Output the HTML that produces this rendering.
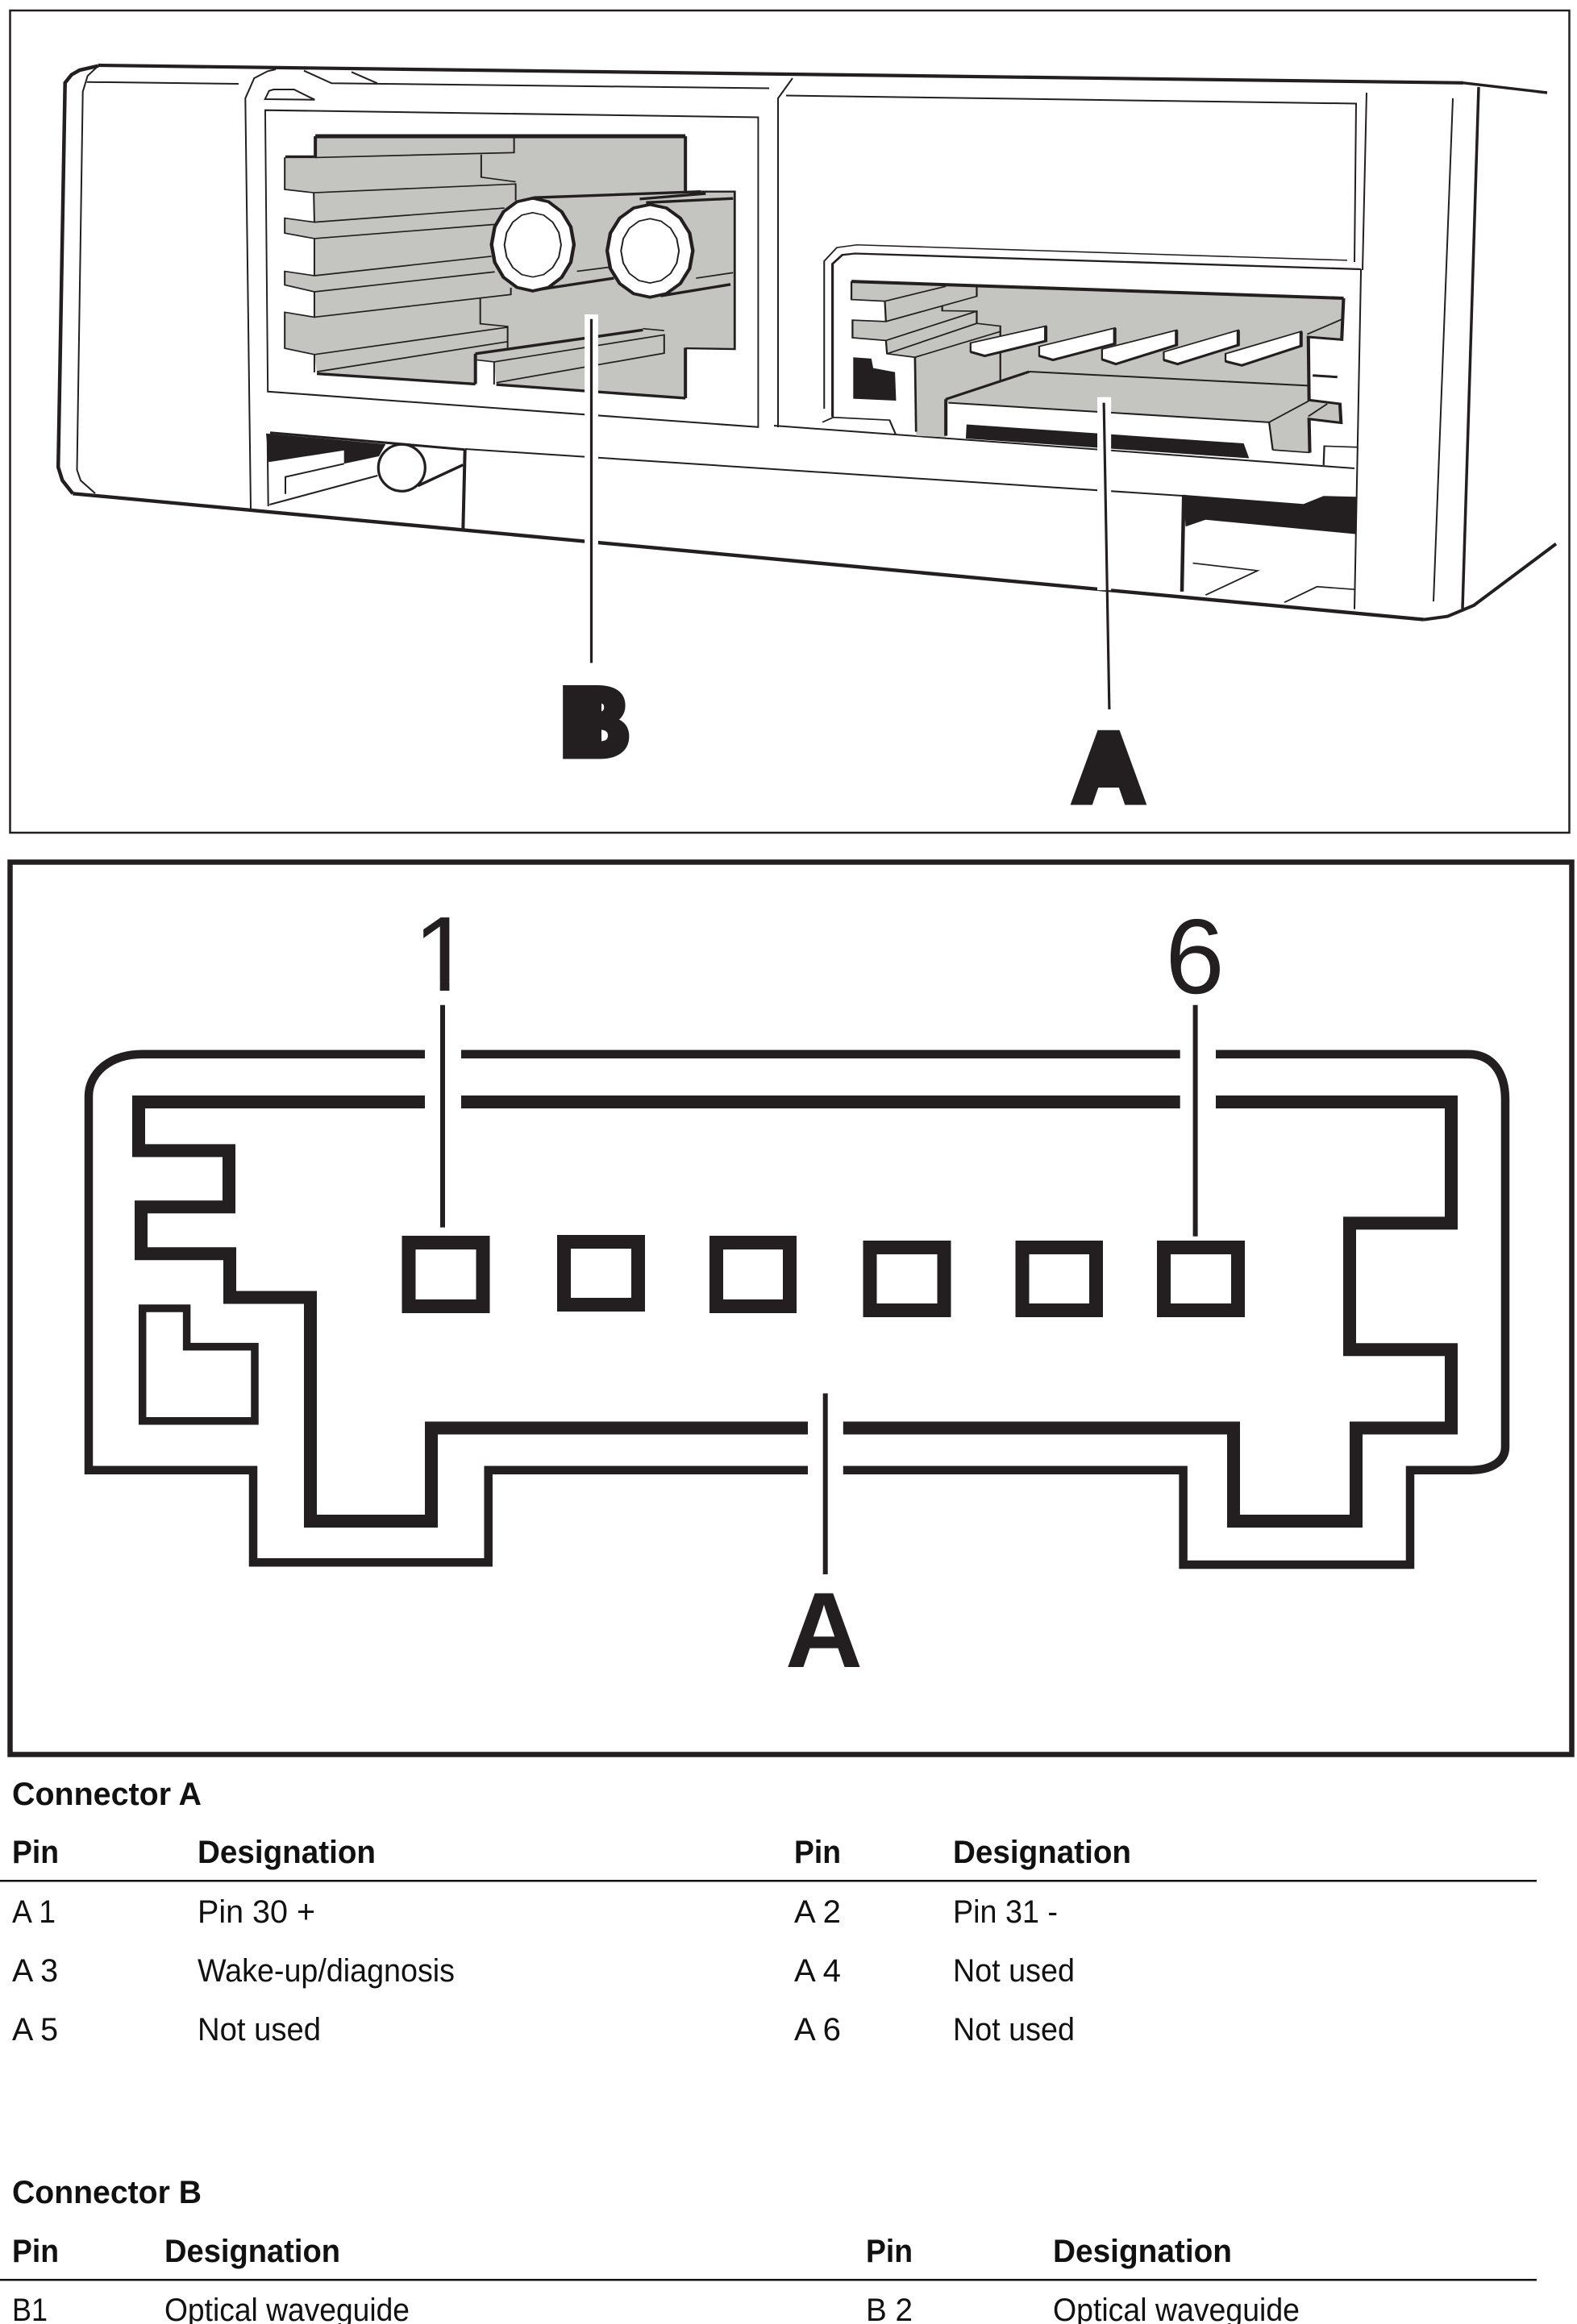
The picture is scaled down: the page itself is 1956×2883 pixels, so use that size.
<!DOCTYPE html>
<html>
<head>
<meta charset="utf-8">
<style>
html,body{margin:0;padding:0;background:#fff;width:1956px;height:2883px;overflow:hidden}
svg{display:block}
text{font-family:"Liberation Sans",sans-serif;fill:#111}
.b{font-weight:700}
.t{font-size:40px}
</style>
</head>
<body>
<svg width="1956" height="2883" viewBox="0 0 1956 2883" xmlns="http://www.w3.org/2000/svg">
<rect width="1956" height="2883" fill="#fff"/>
<rect x="12.5" y="13" width="1934" height="1020" fill="none" stroke="#231f20" stroke-width="2.5"/>

<!-- Long housing lines, full coordinates -->
<g fill="none" stroke="#231f20">
<path d="M122 81L1815 102.8" stroke-width="4.2"/>
<path d="M90.3 612.3L1766 768.6" stroke-width="4.4"/>
<path d="M960 528L1680 581" stroke-width="2"/>
<path d="M577 557L1466 615" stroke-width="2"/>
<path d="M1815 102.8L1919 115" stroke-width="3.4"/>
<path d="M1766 768.6L1795.5 764.6L1828 751L1930 674.6" stroke-width="4"/>
<path d="M1834 108L1814 755" stroke-width="3.5"/>
<path d="M1802 122L1778 746" stroke-width="2"/>
<path d="M1695 115L1690 335" stroke-width="2"/>
<path d="M975 118.5L1682 128.5L1680 325" stroke-width="2"/>
<path d="M983 97L965 122L965 530" stroke-width="2"/>
</g>

<!-- top-left housing -->
<g transform="translate(2 1)" fill="none" stroke="#231f20">
<path d="M120 80.7L96.7 86L86.7 91.7L78.7 101.7L70.2 578.5L75.4 595L88.3 611.3" stroke-width="4.5"/>
<path d="M120 80.7L106.7 93L100.7 112.7L93.5 582L98 595L116 611" stroke-width="2"/>
<path d="M105.7 100.7L294 103" stroke-width="2"/>
<path d="M309 630L302.3 121L313.3 96L330 87.3L340 85" stroke-width="2"/>
<path d="M375 86.7L409.3 102.3L952 108.5M434 88.3L466 102.3" stroke-width="2"/>
<path d="M326.7 122L331.7 111.7L337.3 110L362.7 110L388.3 122.7Z" stroke-width="2"/>
</g>
<g transform="matrix(.645 0 0 .6766 0 0)" fill="none" stroke="#231f20">
<path d="M510 202L1458 215L1458 783L515 718Z" stroke-width="3"/>
</g>

<!-- lower-left mechanism -->
<g transform="translate(5 6)" fill="none" stroke="#231f20">
<path d="M325 531.7L473.3 545L465 560L421.7 569.3L421.7 552.7L328.3 567.3Z" fill="#231f20" stroke="none"/>
<path d="M330 530.7L571.7 551.7" stroke-width="3"/>
<path d="M326.7 533L327.7 622" stroke-width="2"/>
<path d="M571.7 551.7L569.3 652" stroke-width="4"/>
<path d="M349 606.7L349 585.7L421.7 569.3M329.3 620L463.3 584" stroke-width="2"/>
<path d="M513.3 596.7L569.3 570.7" stroke-width="3.5"/>
<circle cx="493.3" cy="574.3" r="29" fill="#fff" stroke-width="3.2"/>
</g>

<!-- Connector A detail -->
<g transform="matrix(.4505 0 0 .336 1020 292)" fill="none" stroke="#231f20">
<path d="M5 640L5 95L40 45L95 35L1445 92" stroke-width="4.5"/>
<path d="M28 670L28 105L55 72L90 67L1483 125" stroke-width="7"/>
<path d="M1483 125L1465 1380" stroke-width="4.5"/>
<path d="M80 170L80 237L172 243L175 318L83 313L83 378L175 388L178 437L255 450L258 740L340 745L340 605L347 618L1230 690L1240 792L1342 802L1340 678L1425 692L1425 622L1338 608L1338 375L1430 385L1435 232Z" fill="#c4c5c0" stroke="none"/>
<path d="M80 170L1435 232" stroke-width="12"/>
<path d="M1435 232L1430 385L1338 375L1340 608L1425 622L1428 692L1340 678L1342 802M340 605L340 740M340 605L570 503" stroke-width="9"/>
<path d="M570 503L1342 555M347 618L1230 690M255 450L258 725" stroke-width="6"/>
<path d="M80 170L80 237L172 243L340 188M172 243L175 318L83 313L83 378L175 388L178 437L255 450L490 355M175 318L425 225L425 190M330 262L330 278L425 280M175 388L425 280L425 325L490 335L490 535M178 437L425 325M1230 690L1338 612M1240 792L1342 802M1230 690L1240 792M1338 668L1390 622M1335 365L1430 310" stroke-width="5"/>
<path d="M1350 517L1418 523" stroke-width="9"/>
<g fill="#fff" stroke-width="5">
<path d="M408 397L615 335L615 390L447 445L408 430Z"/>
<path d="M597 410L805 342L805 400L635 460L597 445Z"/>
<path d="M770 420L975 350L975 405L808 475L770 458Z"/>
<path d="M940 430L1145 350L1145 405L978 475L940 460Z"/>
<path d="M1110 437L1318 355L1318 408L1155 480L1110 465Z"/>
</g>
<path d="M615 335L615 390L447 445L408 430M805 342L805 400L635 460L597 445M975 350L975 405L808 475L770 458M1145 350L1145 405L978 475L940 460M1318 355L1318 408L1155 480L1110 465" stroke-width="9"/>
<path d="M85 450L135 455L140 490L200 505L203 610L85 603Z" fill="#231f20" stroke="none"/>
<path d="M397 698L1160 768L1175 823L395 750Z" fill="#231f20" stroke="none"/>
<path d="M0 690L30 672L185 682L202 735M1380 848L1382 778L1472 782" stroke-width="5"/>
<path d="M995 958L1325 992L1380 962L1470 965L1470 1103L1055 1050L1000 1075Z" fill="#231f20" stroke="none"/>
<path d="M995 958L990 1315" stroke-width="10"/>
<path d="M1020 1210L1198 1238L1055 1328M1272 1355L1362 1297L1465 1307" stroke-width="5"/>
<!-- leader A -->
<path d="M776 597L776 1310" stroke="#fff" stroke-width="38"/>
<path d="M775 618L790 1750" stroke-width="7"/>
</g>

<!-- Connector B detail -->
<g transform="matrix(.3995 0 0 .3385 334 150.4)" fill="none" stroke="#231f20">
<path d="M143 55L1292 55L1292 258L1445 258L1445 835L1292 830L1292 1015L705 965L698 882L645 875L640 963L148 925L140 855L48 832L48 700L140 718L140 625L48 600L48 550L140 566L140 430L48 410L48 355L140 370L138 262L48 250L48 132L143 130Z" fill="#c4c5c0" stroke="none"/>
<path d="M143 55L1292 55" stroke-width="15"/>
<path d="M50 130L143 130L143 55M1292 55L1292 258M1292 830L1292 1015M640 852L640 963M148 925L640 963M705 965L1292 1015" stroke-width="10"/>
<path d="M640 852L1160 765M820 280L1340 258M1150 285L1355 265M1170 298L1440 283M820 620L1070 575M1215 640L1432 598" stroke-width="10"/>
<path d="M1340 258L1445 258L1445 835L1292 832" stroke-width="7"/>
<path d="M48 132L48 250L138 262L765 230L765 290M143 133L760 115L760 60M658 122L658 205L765 222M138 262L140 370L48 355L48 410L140 430L700 378M140 370L730 318M140 430L140 566L48 550L48 600L140 625L700 552M140 566L690 495M140 625L140 718L48 700L48 832L140 855L740 755M140 718L750 635L750 610M655 650L655 742L740 752L740 830M140 855L140 920M148 918L738 808M645 875L698 882L698 965M698 882L1226 783L1226 850L705 958M1160 760L1226 767M955 550L1055 535M1325 575L1440 555" stroke-width="5"/>
<polygon points="818,282 867,295 908,332 936,387 946,452 936,517 908,572 867,609 818,622 769,609 727,572 700,517 690,452 700,387 727,332 769,295" fill="#fff" stroke-width="11"/>
<polygon points="818,335 852,344 880,370 899,408 906,453 899,498 880,536 852,562 818,571 784,562 756,536 737,498 730,453 737,408 756,370 784,344" stroke-width="5"/>
<polygon points="1182,305 1233,318 1276,355 1305,410 1315,475 1305,540 1276,595 1233,632 1182,645 1131,632 1088,595 1059,540 1049,475 1059,410 1088,355 1131,318" fill="#fff" stroke-width="11"/>
<polygon points="1182,357 1216,366 1246,392 1265,430 1272,475 1265,520 1246,558 1216,584 1182,593 1148,584 1118,558 1099,520 1092,475 1099,430 1118,392 1148,366" stroke-width="5"/>
<!-- leader B -->
<path d="M1000 708L1000 1553" stroke="#fff" stroke-width="42"/>
<path d="M1000 725L1000 1985" stroke-width="8"/>
</g>

<!-- Heavy letters -->
<text x="738" y="937" text-anchor="middle" class="b" font-size="120" stroke="#231f20" stroke-width="9" style="fill:#231f20">B</text>
<rect x="712" y="860" width="34" height="68" fill="#231f20"/>
<text x="1375" y="994" text-anchor="middle" class="b" font-size="122" stroke="#231f20" stroke-width="9" style="fill:#231f20">A</text>
<polygon points="1375,925 1396,975 1354,975" fill="#231f20"/>

<!-- LOWER DIAGRAM -->
<rect x="12.5" y="1069.5" width="1937" height="1107" fill="none" stroke="#231f20" stroke-width="6.5"/>
<g fill="none" stroke="#231f20" stroke-linejoin="miter">
<path d="M527 1307.7L177 1307.7C135 1307.7 110 1332 110 1360L110 1823.7L314 1823.7L314 1938.3L605.7 1938.3L605.7 1823.7L1002 1823.7" stroke-width="10.5"/>
<path d="M572 1307.7L1463.7 1307.7M1508 1307.7L1821 1307.7C1852 1307.7 1867 1332 1867 1364L1867 1795C1867 1814 1848 1823.7 1824.5 1823.7L1749 1823.7L1749 1941L1467.6 1941L1467.6 1823.7L1045.8 1823.7" stroke-width="10.5"/>
<path d="M527 1367L172 1367L172 1427.4L284 1427.4L284 1497.3L175 1497.3L175 1555.3L285 1555.3L285 1609.5L385 1609.5L385 1887L535 1887L535 1771.5L1002 1771.5" stroke-width="16"/>
<path d="M572 1367L1463.7 1367M1508 1367L1800 1367L1800 1517.4L1674 1517.4L1674 1674.3L1800 1674.3L1800 1771.5L1682 1771.5L1682 1887L1530 1887L1530 1771.5L1045.8 1771.5" stroke-width="16"/>
<path d="M176.7 1623L231.6 1623L231.6 1670.6L316 1670.6L316 1762.7L176.7 1762.7Z" stroke-width="9.5"/>
<g stroke-width="17">
<rect x="507" y="1541.5" width="92" height="79"/>
<rect x="699.5" y="1540.5" width="92" height="78"/>
<rect x="888.5" y="1541.5" width="91" height="79"/>
<rect x="1079" y="1547.5" width="92" height="78"/>
<rect x="1268" y="1547.5" width="91.5" height="78"/>
<rect x="1443.5" y="1547.5" width="92" height="78"/>
</g>
<path d="M549 1246.7L549 1522.6M1482.6 1246.7L1482.6 1533.7M1023.7 1728.5L1023.7 1953" stroke-width="6"/>
</g>
<text x="512.5" y="1229" font-size="132" style="fill:#231f20">1</text>
<rect x="517" y="1217.5" width="28.7" height="14" fill="#fff"/>
<rect x="557.4" y="1217.5" width="32" height="14" fill="#fff"/>
<text x="1482" y="1232" font-size="132" text-anchor="middle" style="fill:#231f20">6</text>
<text x="1022" y="2068" font-size="133" class="b" text-anchor="middle" style="fill:#231f20">A</text>

<!-- TABLES -->
<g class="t">
<text class="b t" x="15" y="2239" textLength="235" lengthAdjust="spacingAndGlyphs">Connector A</text>
<text class="b t" x="15" y="2311" textLength="58" lengthAdjust="spacingAndGlyphs">Pin</text>
<text class="b t" x="245" y="2311" textLength="221" lengthAdjust="spacingAndGlyphs">Designation</text>
<text class="b t" x="985" y="2311" textLength="58" lengthAdjust="spacingAndGlyphs">Pin</text>
<text class="b t" x="1182" y="2311" textLength="221" lengthAdjust="spacingAndGlyphs">Designation</text>
<rect x="0" y="2332" width="1906" height="2.5" fill="#111"/>
<text class="t" x="15" y="2385" textLength="54" lengthAdjust="spacingAndGlyphs">A 1</text>
<text class="t" x="245" y="2385" textLength="146" lengthAdjust="spacingAndGlyphs">Pin 30 +</text>
<text class="t" x="985" y="2385" textLength="58" lengthAdjust="spacingAndGlyphs">A 2</text>
<text class="t" x="1182" y="2385" textLength="130" lengthAdjust="spacingAndGlyphs">Pin 31 -</text>
<text class="t" x="15" y="2458" textLength="57" lengthAdjust="spacingAndGlyphs">A 3</text>
<text class="t" x="245" y="2458" textLength="319" lengthAdjust="spacingAndGlyphs">Wake-up/diagnosis</text>
<text class="t" x="985" y="2458" textLength="58" lengthAdjust="spacingAndGlyphs">A 4</text>
<text class="t" x="1182" y="2458" textLength="151" lengthAdjust="spacingAndGlyphs">Not used</text>
<text class="t" x="15" y="2531" textLength="57" lengthAdjust="spacingAndGlyphs">A 5</text>
<text class="t" x="245" y="2531" textLength="153" lengthAdjust="spacingAndGlyphs">Not used</text>
<text class="t" x="985" y="2531" textLength="58" lengthAdjust="spacingAndGlyphs">A 6</text>
<text class="t" x="1182" y="2531" textLength="151" lengthAdjust="spacingAndGlyphs">Not used</text>
<text class="b t" x="15" y="2733" textLength="235" lengthAdjust="spacingAndGlyphs">Connector B</text>
<text class="b t" x="15" y="2806" textLength="58" lengthAdjust="spacingAndGlyphs">Pin</text>
<text class="b t" x="204" y="2806" textLength="218" lengthAdjust="spacingAndGlyphs">Designation</text>
<text class="b t" x="1074" y="2806" textLength="58" lengthAdjust="spacingAndGlyphs">Pin</text>
<text class="b t" x="1306" y="2806" textLength="222" lengthAdjust="spacingAndGlyphs">Designation</text>
<rect x="0" y="2827" width="1906" height="2.5" fill="#111"/>
<text class="t" x="15" y="2879" textLength="44" lengthAdjust="spacingAndGlyphs">B1</text>
<text class="t" x="204" y="2879" textLength="304" lengthAdjust="spacingAndGlyphs">Optical waveguide</text>
<text class="t" x="1074" y="2879" textLength="58" lengthAdjust="spacingAndGlyphs">B 2</text>
<text class="t" x="1306" y="2879" textLength="306" lengthAdjust="spacingAndGlyphs">Optical waveguide</text>
</g>
</svg>
</body>
</html>
